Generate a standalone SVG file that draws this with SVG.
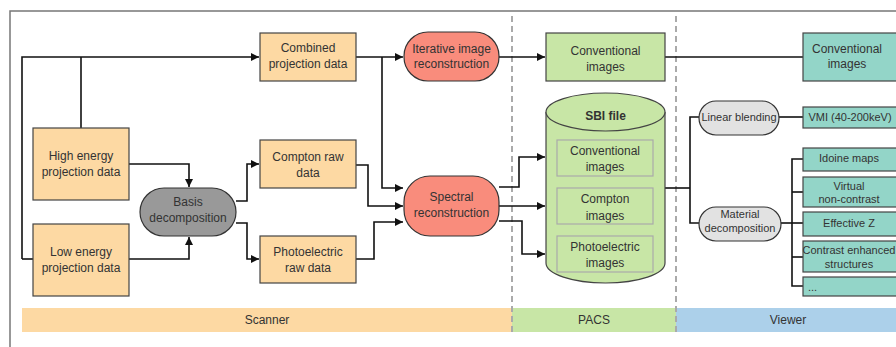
<svg xmlns="http://www.w3.org/2000/svg" width="896" height="347" viewBox="0 0 896 347">
  <defs>
    <marker id="arrow" viewBox="0 0 10 10" refX="10" refY="5" markerWidth="10" markerHeight="8" markerUnits="userSpaceOnUse" orient="auto">
      <path d="M0,0 L10,5 L0,10 z" fill="#111"/>
    </marker>
    <style>
      text { font-family: "Liberation Sans", Arial, sans-serif; font-size: 12px; fill: #333; text-anchor: middle; dominant-baseline: central; }
      .scan { fill: #fdd9a3; stroke: #444; stroke-width: 1.2; }
      .pacs { fill: #c8e6a6; stroke: #444; stroke-width: 1.2; }
      .view { fill: #93d5c8; stroke: #444; stroke-width: 1.2; }
      .recon { fill: #f98c7c; stroke: #333; stroke-width: 1.2; }
      .inner { fill: none; stroke: #aaa; stroke-width: 1.2; }
      .wire { fill: none; stroke: #111; stroke-width: 1.6; }
      .arr { fill: none; stroke: #111; stroke-width: 1.6; marker-end: url(#arrow); }
      .divider { stroke: #aaa; stroke-width: 2; stroke-dasharray: 6 4; }
      .sm { font-size: 11px; }
    </style>
  </defs>

  <rect width="896" height="347" fill="#fff"/>
  <!-- outer frame -->
  <path d="M10,347 V11 H896" fill="none" stroke="#777" stroke-width="1.5"/>

  <!-- stage bands -->
  <g id="bands">
    <rect x="22" y="308" width="490" height="24" fill="#fdd9a3"/>
    <rect x="512" y="308" width="164" height="24" fill="#c8e6a6"/>
    <rect x="676" y="308" width="224" height="24" fill="#acd0ea"/>
    <text x="267" y="320">Scanner</text>
    <text x="594" y="320">PACS</text>
    <text x="788" y="320">Viewer</text>
  </g>

  <!-- stage dividers -->
  <line class="divider" x1="512" y1="16" x2="512" y2="334"/>
  <line class="divider" x1="676" y1="16" x2="676" y2="334"/>

  <g id="connectors">
    <!-- projection data fan-out -->
    <path class="arr" d="M22,259 V57 H259"/>
    <path class="wire" d="M81,128 V57"/>
    <path class="wire" d="M22,259 H33"/>
    <path class="arr" d="M129,164 H189 V187"/>
    <path class="arr" d="M129,259 H189 V237"/>
    <!-- basis decomposition outputs -->
    <path class="arr" d="M236,201 H247 V164 H259"/>
    <path class="arr" d="M236,223 H247 V259 H259"/>
    <!-- to reconstructions -->
    <path class="arr" d="M356,57 H403"/>
    <path class="arr" d="M382,57 V188 H403"/>
    <path class="arr" d="M356,165 H368 V206 H403"/>
    <path class="arr" d="M356,259 H374 V222 H403"/>
    <!-- to PACS -->
    <path class="arr" d="M499,57 H545"/>
    <path class="arr" d="M499,187 H519 V157 H545"/>
    <path class="arr" d="M499,206 H545"/>
    <path class="arr" d="M499,221 H522 V254 H545"/>
    <!-- PACS to viewer -->
    <path class="wire" d="M665,57 H803"/>
    <path class="wire" d="M665,188 H690"/>
    <path class="wire" d="M699,117 H690 V223 H699"/>
    <path class="wire" d="M779,117 H803"/>
    <path class="wire" d="M781,223 H803"/>
    <path class="wire" d="M803,159 H792 V286 H803"/>
    <path class="wire" d="M792,192 H803"/>
    <path class="wire" d="M792,257 H803"/>
  </g>

  <!-- scanner nodes -->
  <g id="high-energy">
    <rect class="scan" x="33" y="128" width="96" height="72"/>
    <text x="81" y="156">High energy</text>
    <text x="81" y="172">projection data</text>
  </g>
  <g id="low-energy">
    <rect class="scan" x="33" y="224" width="96" height="72"/>
    <text x="81" y="252">Low energy</text>
    <text x="81" y="268">projection data</text>
  </g>
  <g id="basis-decomposition">
    <rect x="140" y="188" width="96" height="48" rx="24" fill="#999" stroke="#333" stroke-width="1.2"/>
    <text x="188" y="202">Basis</text>
    <text x="188" y="218">decomposition</text>
  </g>
  <g id="combined">
    <rect class="scan" x="260" y="33" width="96" height="48"/>
    <text x="308" y="48">Combined</text>
    <text x="308" y="64">projection data</text>
  </g>
  <g id="compton-raw">
    <rect class="scan" x="260" y="140" width="96" height="48"/>
    <text x="308" y="157">Compton raw</text>
    <text x="308" y="173">data</text>
  </g>
  <g id="photoelectric-raw">
    <rect class="scan" x="260" y="236" width="96" height="47"/>
    <text x="308" y="252">Photoelectric</text>
    <text x="308" y="268">raw data</text>
  </g>
  <g id="iterative">
    <rect class="recon" x="404" y="32" width="95" height="49" rx="24"/>
    <text x="451.5" y="49">Iterative image</text>
    <text x="451.5" y="64">reconstruction</text>
  </g>
  <g id="spectral">
    <rect class="recon" x="404" y="176" width="95" height="60" rx="26"/>
    <text x="451.5" y="197">Spectral</text>
    <text x="451.5" y="213">reconstruction</text>
  </g>

  <!-- PACS nodes -->
  <g id="pacs-conventional">
    <rect class="pacs" x="546" y="33" width="119" height="48"/>
    <text x="605.5" y="51">Conventional</text>
    <text x="605.5" y="67">images</text>
  </g>
  <g id="sbi-file">
    <path class="pacs" d="M546,112 V263 A59.5,20 0 0 0 665,263 V112"/>
    <ellipse class="pacs" cx="605.5" cy="112" rx="59.5" ry="19"/>
    <text x="605.5" y="116" style="font-weight:bold">SBI file</text>
    <rect class="inner" x="557" y="140" width="96" height="36"/>
    <text x="605" y="151">Conventional</text>
    <text x="605" y="167">images</text>
    <rect class="inner" x="557" y="188" width="96" height="36"/>
    <text x="605" y="199">Compton</text>
    <text x="605" y="216">images</text>
    <rect class="inner" x="557" y="236" width="96" height="36"/>
    <text x="605" y="247">Photoelectric</text>
    <text x="605" y="263">images</text>
  </g>

  <!-- viewer nodes -->
  <g id="linear-blending">
    <rect x="699" y="101" width="80" height="34" rx="17" fill="#e2e2e2" stroke="#333" stroke-width="1.2"/>
    <text class="sm" x="739" y="117">Linear blending</text>
  </g>
  <g id="material-decomposition">
    <rect x="699" y="207" width="82" height="34" rx="17" fill="#e2e2e2" stroke="#333" stroke-width="1.2"/>
    <text class="sm" x="740" y="214">Material</text>
    <text class="sm" x="740" y="228">decomposition</text>
  </g>
  <g id="viewer-conventional">
    <rect class="view" x="803" y="33" width="100" height="48"/>
    <text x="847" y="49">Conventional</text>
    <text x="847" y="64">images</text>
  </g>
  <g id="vmi">
    <rect class="view" x="803" y="107" width="100" height="21"/>
    <text class="sm" x="850" y="117">VMI (40-200keV)</text>
  </g>
  <g id="iodine-maps">
    <rect class="view" x="803" y="148" width="100" height="23"/>
    <text class="sm" x="849" y="158">Idoine maps</text>
  </g>
  <g id="virtual-non-contrast">
    <rect class="view" x="803" y="177" width="100" height="30"/>
    <text class="sm" x="849" y="186">Virtual</text>
    <text class="sm" x="849" y="199">non-contrast</text>
  </g>
  <g id="effective-z">
    <rect class="view" x="803" y="212" width="100" height="24"/>
    <text class="sm" x="849" y="223">Effective Z</text>
  </g>
  <g id="contrast-enhanced">
    <rect class="view" x="803" y="241" width="100" height="31"/>
    <text class="sm" x="849" y="250">Contrast enhanced</text>
    <text class="sm" x="849" y="264">structures</text>
  </g>
  <g id="more">
    <rect class="view" x="803" y="277" width="100" height="19"/>
    <text class="sm" x="808" y="287" style="text-anchor:start">...</text>
  </g>
</svg>
